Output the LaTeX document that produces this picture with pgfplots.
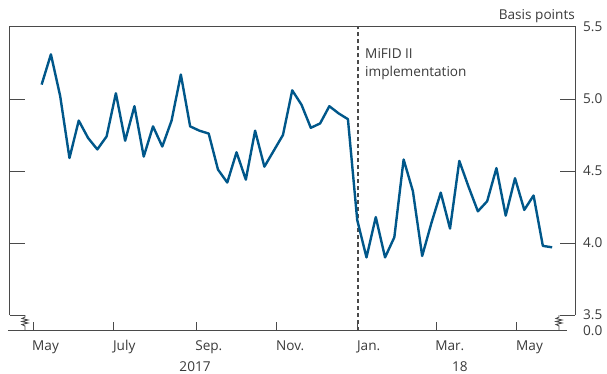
\documentclass[border=0pt]{standalone}
\usepackage{pgfplots}
\pgfplotsset{compat=1.18}
\usepackage{fontspec}
\setmainfont{Open Sans}
\definecolor{boeblue}{HTML}{00578A}
\definecolor{axgray}{HTML}{4A4A4A}
\definecolor{txtgray}{HTML}{3A3A3A}
\begin{document}
\fontsize{13.6bp}{16bp}\selectfont
\begin{tikzpicture}[font=\fontsize{13.6bp}{16bp}\selectfont, text=txtgray]
\begin{axis}[
  scale only axis, width=565bp, height=303.5bp,
  xmin=-17.35, xmax=408.75, ymin=3.3924, ymax=5.5,
  clip=false,
  axis line style={draw=none},
  tick align=inside,
  xtick={0,61,123,184,245,304,365},
  xticklabels={May,July,Sep.,Nov.,Jan.,Mar.,May},
  xtick pos=left,
  xticklabel pos=left,
  ytick={3.5,4,4.5,5,5.5},
  ytick pos=both,
  yticklabel pos=right,
  xtick style={/pgfplots/major tick length=8bp, draw=axgray, line width=1bp},
  ytick style={/pgfplots/major tick length=15bp, draw=axgray, line width=1bp},
  /pgf/number format/assume math mode=true,
  yticklabel style={anchor=west, inner sep=0pt, xshift=8bp, /pgf/number format/fixed, /pgf/number format/fixed zerofill, /pgf/number format/precision=1, text=txtgray},
  xticklabel style={anchor=base west, inner sep=0pt, yshift=-19.5bp, xshift=-1bp, text=txtgray},
]
\coordinate (sw) at (rel axis cs:0,0);
\coordinate (ne) at (rel axis cs:1,1);
\coordinate (lb) at (axis cs:-6.04,3.5);
\coordinate (rb) at (axis cs:396.7,3.5);
% frame
\draw[axgray, line width=1bp] (axis cs:-17.35,3.5) -- (axis cs:-17.35,5.5) -- (axis cs:408.75,5.5) -- (axis cs:408.75,3.5);
\draw[axgray, line width=1bp] (axis cs:-18.9,3.3924) -- (axis cs:402.7,3.3924);
% MiFID line
\draw[axgray, line width=1.3bp, dash pattern=on 4bp off 3bp] (axis cs:245,3.3924) -- (axis cs:245,5.5);
\node[anchor=base west, inner sep=0pt] at ([yshift=-31.3bp]axis cs:250.4,5.5) {MiFID II};
\node[anchor=base west, inner sep=0pt] at ([yshift=-49.7bp]axis cs:250.4,5.5) {implementation};
\node[anchor=base east, inner sep=0pt] at ([yshift=7bp]axis cs:408.75,5.5) {Basis points};
\node[anchor=west, inner sep=0pt] at ([xshift=8bp]axis cs:408.75,3.3924) {0.0};
\node[anchor=base, inner sep=0pt] at ([yshift=-40.5bp]axis cs:122.2,3.3924) {2017};
\node[anchor=base, inner sep=0pt] at ([yshift=-40.5bp]axis cs:322,3.3924) {18};
\addplot[boeblue, line width=2.4bp, line join=round, mark=none] coordinates {
(6.5,5.10) (13.5,5.31) (20.5,5.02) (27.5,4.59) (34.5,4.85) (41.5,4.73) (48.5,4.65) (55.5,4.74)
(62.5,5.04) (69.5,4.71) (76.5,4.95) (83.5,4.60) (90.5,4.81) (97.5,4.67) (104.5,4.85) (111.5,5.17)
(118.5,4.81) (125.5,4.78) (132.5,4.76) (139.5,4.51) (146.5,4.42) (153.5,4.63) (160.5,4.44) (167.5,4.78)
(174.5,4.53) (181.5,4.64) (188.5,4.75) (195.5,5.06) (202.5,4.96) (209.5,4.80) (216.5,4.83) (223.5,4.95)
(230.5,4.90) (237.5,4.86) (244.5,4.16) (251.5,3.90) (258.5,4.18) (265.5,3.90) (272.5,4.04) (279.5,4.58)
(286.5,4.36) (293.5,3.91) (300.5,4.14) (307.5,4.35) (314.5,4.10) (321.5,4.57) (328.5,4.39) (335.5,4.22)
(342.5,4.29) (349.5,4.52) (356.5,4.19) (363.5,4.45) (370.5,4.23) (377.5,4.33) (384.5,3.98) (391.5,3.97)
};
\end{axis}
\draw[axgray, line width=0.9bp] (lb) -- ++(0,-2bp) -- ++(-3bp,-1.5bp) -- ++(6bp,-1.5bp) -- ++(-6bp,-1.5bp) -- ++(6bp,-1.5bp) -- ++(-6bp,-1.5bp) -- ++(3bp,-1.5bp) -- ++(0,-4bp);
\draw[axgray, line width=0.9bp] (rb) -- ++(0,-2bp) -- ++(-3bp,-1.5bp) -- ++(6bp,-1.5bp) -- ++(-6bp,-1.5bp) -- ++(6bp,-1.5bp) -- ++(-6bp,-1.5bp) -- ++(3bp,-1.5bp) -- ++(0,-4bp);
\pgfresetboundingbox
\path[use as bounding box] ([shift={(-10bp,-43.5bp)}]sw) rectangle ([shift={(32bp,27bp)}]ne);
\end{tikzpicture}
\end{document}
